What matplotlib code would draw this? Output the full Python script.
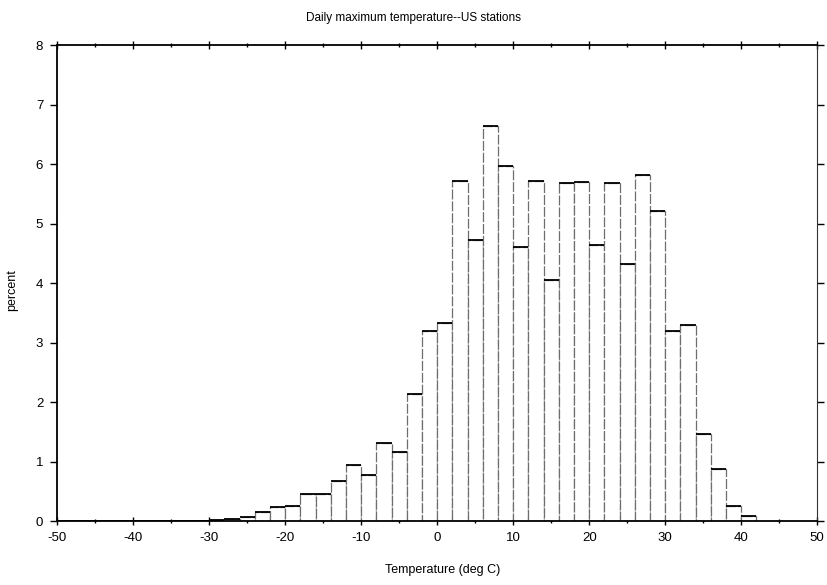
import matplotlib
matplotlib.use('Agg')
import matplotlib.pyplot as plt
import numpy as np

plt.rcParams['font.family'] = ['Liberation Sans', 'DejaVu Sans']
plt.rcParams['axes.unicode_minus'] = False

# 2 deg C bins, left edges from -50 to 40
bin_left = list(range(-50, 42, 2))
pct = [0.01, 0.01, 0.01, 0.01, 0.01, 0.01, 0.01, 0.01, 0.01, 0.01,   # -50 .. -32
       0.02, 0.04, 0.07, 0.16, 0.24, 0.25, 0.46, 0.46, 0.68, 0.94,   # -30 .. -12
       0.77, 1.32, 1.16, 2.14, 3.19, 3.33, 5.71, 4.73, 6.64, 5.97,   # -10 .. 8
       4.60, 5.71, 4.05, 5.69, 5.70, 4.64, 5.69, 4.32, 5.81, 5.22,   # 10 .. 28
       3.19, 3.29, 1.47, 0.88, 0.26, 0.08]                           # 30 .. 40
bin_width = 2

xticks = [-50, -40, -30, -20, -10, 0, 10, 20, 30, 40, 50]
yticks = [0, 1, 2, 3, 4, 5, 6, 7, 8]

fig = plt.figure(figsize=(8.28, 5.85), dpi=100)
ax = fig.add_axes([0.069, 0.109, 0.918, 0.814])

left = np.array(bin_left)
h = np.array(pct)
# sides of the bars are faint in the original scan
ax.bar(left, h, width=bin_width, align='edge', facecolor='white',
       edgecolor='#6e6e6e', linewidth=0.9, linestyle=(0, (8, 1.5)), zorder=2)
# tops are solid black
ax.hlines(h, left, left + bin_width, colors='black', linewidth=1.3, zorder=3)

ax.set_xlim(-50, 50)
ax.set_ylim(0, 8)
ax.set_xticks(xticks)
ax.set_xticks(np.arange(-45, 50, 10), minor=True)
ax.set_yticks(yticks)
ax.tick_params(axis='both', which='major', direction='out', length=5,
               width=1, labelsize=9.5, colors='black', pad=5)
ax.tick_params(axis='x', which='major', top=True, direction='inout', length=6)
ax.tick_params(axis='x', which='minor', top=True, direction='inout', length=3, width=1)
ax.tick_params(axis='y', right=True)

for side in ['left', 'bottom', 'top']:
    ax.spines[side].set_linewidth(1.3)
ax.spines['right'].set_linewidth(0.8)
ax.spines['right'].set_color('#333333')

fig.text(0.5, 0.97, 'Daily maximum temperature--US stations',
         ha='center', va='center', fontsize=8.5)
fig.text(0.535, 0.026, 'Temperature (deg C)', ha='center', va='center', fontsize=9)
fig.text(0.015, 0.505, 'percent', ha='center', va='center', rotation=90, fontsize=9)

fig.savefig('out.png', dpi=100)
